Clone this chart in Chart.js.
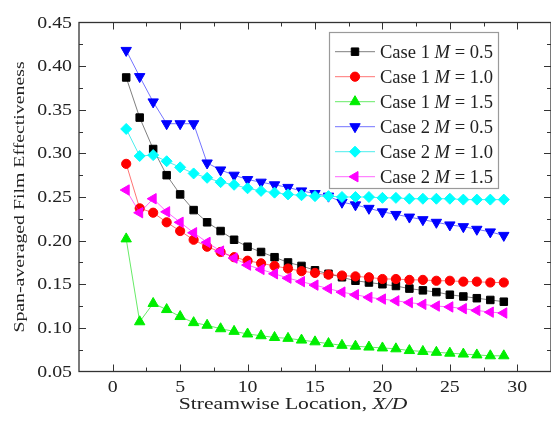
<!DOCTYPE html>
<html>
<head>
<meta charset="utf-8">
<script src="https://cdn.jsdelivr.net/npm/chart.js@4.4.0/dist/chart.umd.min.js"></script>
<style>
  html, body { margin: 0; padding: 0; background: #fff; }
  #wrap { width: 551px; height: 421px; position: relative; }
</style>
</head>
<body>
<div id="wrap"><canvas id="effChart"></canvas></div>
<script>
// Streamwise positions X/D
const xPos = [1, 2, 3, 4, 5, 6, 7, 8, 9, 10, 11, 12, 13, 14, 15, 16, 17, 18, 19, 20, 21, 22, 23, 24, 25, 26, 27, 28, 29];
const xTicks = [0, 5, 10, 15, 20, 25, 30];
const yTicks = [0.05, 0.10, 0.15, 0.20, 0.25, 0.30, 0.35, 0.40, 0.45];

// span-averaged film effectiveness
const case1M05 = [0.387, 0.341, 0.305, 0.275, 0.253, 0.235, 0.221, 0.211, 0.201, 0.193, 0.187, 0.181, 0.175, 0.171, 0.166, 0.162, 0.158, 0.154, 0.152, 0.150, 0.148, 0.145, 0.143, 0.141, 0.138, 0.136, 0.134, 0.132, 0.130];
const case1M10 = [0.288, 0.237, 0.232, 0.221, 0.211, 0.201, 0.193, 0.187, 0.181, 0.177, 0.174, 0.171, 0.168, 0.165, 0.163, 0.161, 0.160, 0.159, 0.158, 0.156, 0.156, 0.155, 0.155, 0.154, 0.154, 0.153, 0.153, 0.152, 0.152];
const case1M15 = [0.202, 0.107, 0.128, 0.121, 0.113, 0.106, 0.103, 0.099, 0.096, 0.093, 0.091, 0.089, 0.088, 0.086, 0.084, 0.082, 0.080, 0.079, 0.078, 0.077, 0.076, 0.074, 0.073, 0.072, 0.071, 0.070, 0.069, 0.068, 0.068];
const case2M05 = [0.418, 0.388, 0.359, 0.334, 0.334, 0.334, 0.289, 0.281, 0.275, 0.270, 0.267, 0.264, 0.261, 0.257, 0.254, 0.251, 0.244, 0.241, 0.237, 0.233, 0.230, 0.227, 0.224, 0.221, 0.218, 0.216, 0.213, 0.210, 0.206];
const case2M10 = [0.328, 0.297, 0.298, 0.291, 0.284, 0.277, 0.272, 0.267, 0.264, 0.260, 0.257, 0.255, 0.253, 0.252, 0.251, 0.251, 0.250, 0.250, 0.250, 0.249, 0.249, 0.248, 0.248, 0.248, 0.248, 0.247, 0.247, 0.247, 0.247];
const case2M15 = [0.258, 0.232, 0.248, 0.233, 0.221, 0.209, 0.198, 0.188, 0.180, 0.172, 0.167, 0.162, 0.157, 0.153, 0.149, 0.145, 0.141, 0.138, 0.135, 0.133, 0.131, 0.129, 0.127, 0.125, 0.124, 0.122, 0.120, 0.118, 0.117];

const caseNames = ['Case 1', 'Case 1', 'Case 1', 'Case 2', 'Case 2', 'Case 2'];
const blowingRatios = ['0.5', '1.0', '1.5', '0.5', '1.0', '1.5'];

const FONT = '"Liberation Serif", "Times New Roman", serif';

// draws text made of plain/italic pieces, stretched sideways by sx
function drawParts(ctx, parts, x, y, size, sx, align) {
    let total = 0;
    parts.forEach(p => {
        ctx.font = (p.it ? 'italic ' : '') + size + 'px ' + FONT;
        p.w = ctx.measureText(p.t).width;
        total += p.w;
    });
    ctx.save();
    ctx.translate(x, y);
    ctx.scale(sx, 1);
    let cx = align === 'center' ? -total / 2 : (align === 'right' ? -total : 0);
    ctx.textAlign = 'left';
    ctx.textBaseline = 'alphabetic';
    parts.forEach(p => {
        ctx.font = (p.it ? 'italic ' : '') + size + 'px ' + FONT;
        ctx.fillText(p.t, cx, 0);
        cx += p.w;
    });
    ctx.restore();
}

function mkSet(i, data, color, lineColor, style, radius, rotation) {
    return {
        label: caseNames[i] + ' M = ' + blowingRatios[i],
        data: data.map((v, k) => ({ x: xPos[k], y: v })),
        borderColor: lineColor,
        backgroundColor: color,
        pointBackgroundColor: color,
        pointBorderColor: color,
        pointBorderWidth: 1,
        pointStyle: style,
        pointRadius: radius,
        pointRotation: rotation,
        borderWidth: 1,
        order: 6 - i
    };
}

const datasets = [
    mkSet(0, case1M05, '#000000', 'rgba(0,0,0,0.5)', 'rect', 5.3, 0),
    mkSet(1, case1M10, '#ff0000', 'rgba(255,0,0,0.55)', 'circle', 4.6, 0),
    mkSet(2, case1M15, '#00ee00', 'rgba(0,220,0,0.6)', 'triangle', 6, 0),
    mkSet(3, case2M05, '#0000ff', 'rgba(0,0,255,0.55)', 'triangle', 6, 180),
    mkSet(4, case2M10, '#00ffff', 'rgba(0,230,230,0.7)', 'rectRot', 5.5, 0),
    mkSet(5, case2M15, '#ff00ff', 'rgba(255,0,255,0.6)', 'triangle', 6, 270)
];

// box frame with inward ticks, tick labels, titles and legend
const framePlugin = {
    id: 'frame',
    afterDraw(chart) {
        const ctx = chart.ctx;
        const a = chart.chartArea;
        const xs = chart.scales.x;
        const ys = chart.scales.y;
        ctx.save();

        ctx.strokeStyle = '#333';
        ctx.lineWidth = 1.3;
        ctx.strokeRect(a.left, a.top, a.right - a.left, a.bottom - a.top);

        const xMinor = [];
        for (let i = 0; i < xTicks.length - 1; i++) xMinor.push((xTicks[i] + xTicks[i + 1]) / 2);
        const yMinor = [];
        for (let i = 0; i < yTicks.length - 1; i++) yMinor.push((yTicks[i] + yTicks[i + 1]) / 2);

        ctx.lineWidth = 1;
        ctx.beginPath();
        const vTick = (v, len) => {
            const px = Math.round(xs.getPixelForValue(v)) + 0.5;
            ctx.moveTo(px, a.bottom); ctx.lineTo(px, a.bottom - len);
            ctx.moveTo(px, a.top); ctx.lineTo(px, a.top + len);
        };
        const hTick = (v, len) => {
            const py = Math.round(ys.getPixelForValue(v)) + 0.5;
            ctx.moveTo(a.left, py); ctx.lineTo(a.left + len, py);
            ctx.moveTo(a.right, py); ctx.lineTo(a.right - len, py);
        };
        xTicks.forEach(v => vTick(v, 7));
        xMinor.forEach(v => vTick(v, 4));
        yTicks.slice(1, -1).forEach(v => hTick(v, 7));
        yMinor.forEach(v => hTick(v, 4));
        ctx.stroke();

        // tick labels
        ctx.fillStyle = '#222';
        yTicks.forEach(v => {
            drawParts(ctx, [{ t: v.toFixed(2) }], a.left - 7, ys.getPixelForValue(v) + 5, 16, 1.24, 'right');
        });
        xTicks.forEach(v => {
            drawParts(ctx, [{ t: String(v) }], xs.getPixelForValue(v), 392, 16, 1.24, 'center');
        });

        // axis titles
        drawParts(ctx, [{ t: 'Streamwise Location, ' }, { t: 'X/D', it: true }], 293, 409, 17, 1.27, 'center');
        ctx.save();
        ctx.translate(23.5, (a.top + a.bottom) / 2);
        ctx.rotate(-Math.PI / 2);
        drawParts(ctx, [{ t: 'Span-averaged Film Effectiveness' }], 0, 0, 15, 1.32, 'center');
        ctx.restore();

        // legend
        ctx.fillStyle = '#fff';
        ctx.fillRect(329.5, 32.5, 169, 156);
        ctx.strokeStyle = '#9a9a9a';
        ctx.lineWidth = 1.2;
        ctx.strokeRect(329.5, 32.5, 169, 156);
        chart.data.datasets.forEach((ds, i) => {
            const ry = 51.7 + 25 * i;
            ctx.strokeStyle = ds.borderColor;
            ctx.lineWidth = 1;
            ctx.beginPath();
            ctx.moveTo(335, ry); ctx.lineTo(375, ry);
            ctx.stroke();
            ctx.fillStyle = ds.pointBackgroundColor;
            ctx.strokeStyle = ds.pointBorderColor;
            Chart.helpers.drawPoint(ctx, {
                pointStyle: ds.pointStyle,
                radius: ds.pointRadius,
                rotation: ds.pointRotation,
                borderWidth: 1
            }, 355, ry);
            ctx.fillStyle = '#222';
            drawParts(ctx, [
                { t: caseNames[i] + ' ' },
                { t: 'M', it: true },
                { t: ' = ' + blowingRatios[i] }
            ], 380, ry + 6, 18, 1.03, 'left');
        });

        ctx.restore();
    }
};

new Chart(document.getElementById('effChart'), {
    type: 'line',
    data: { datasets: datasets },
    options: {
        responsive: true,
        maintainAspectRatio: false,
        animation: false,
        layout: { autoPadding: false, padding: { top: 22.5, right: -1.5, left: 0, bottom: 0 } },
        plugins: { legend: { display: false }, tooltip: { enabled: false } },
        scales: {
            x: {
                type: 'linear',
                min: -2.5,
                max: 32.5,
                grid: { display: false },
                border: { display: false },
                ticks: { display: false },
                afterBuildTicks: s => { s.ticks = xTicks.map(v => ({ value: v })); },
                afterFit: s => { s.height = 49.5; }
            },
            y: {
                min: 0.05,
                max: 0.45,
                grid: { display: false },
                border: { display: false },
                ticks: { display: false },
                afterBuildTicks: s => { s.ticks = yTicks.map(v => ({ value: v })); },
                afterFit: s => { s.width = 79; }
            }
        }
    },
    plugins: [framePlugin]
});
</script>
</body>
</html>
